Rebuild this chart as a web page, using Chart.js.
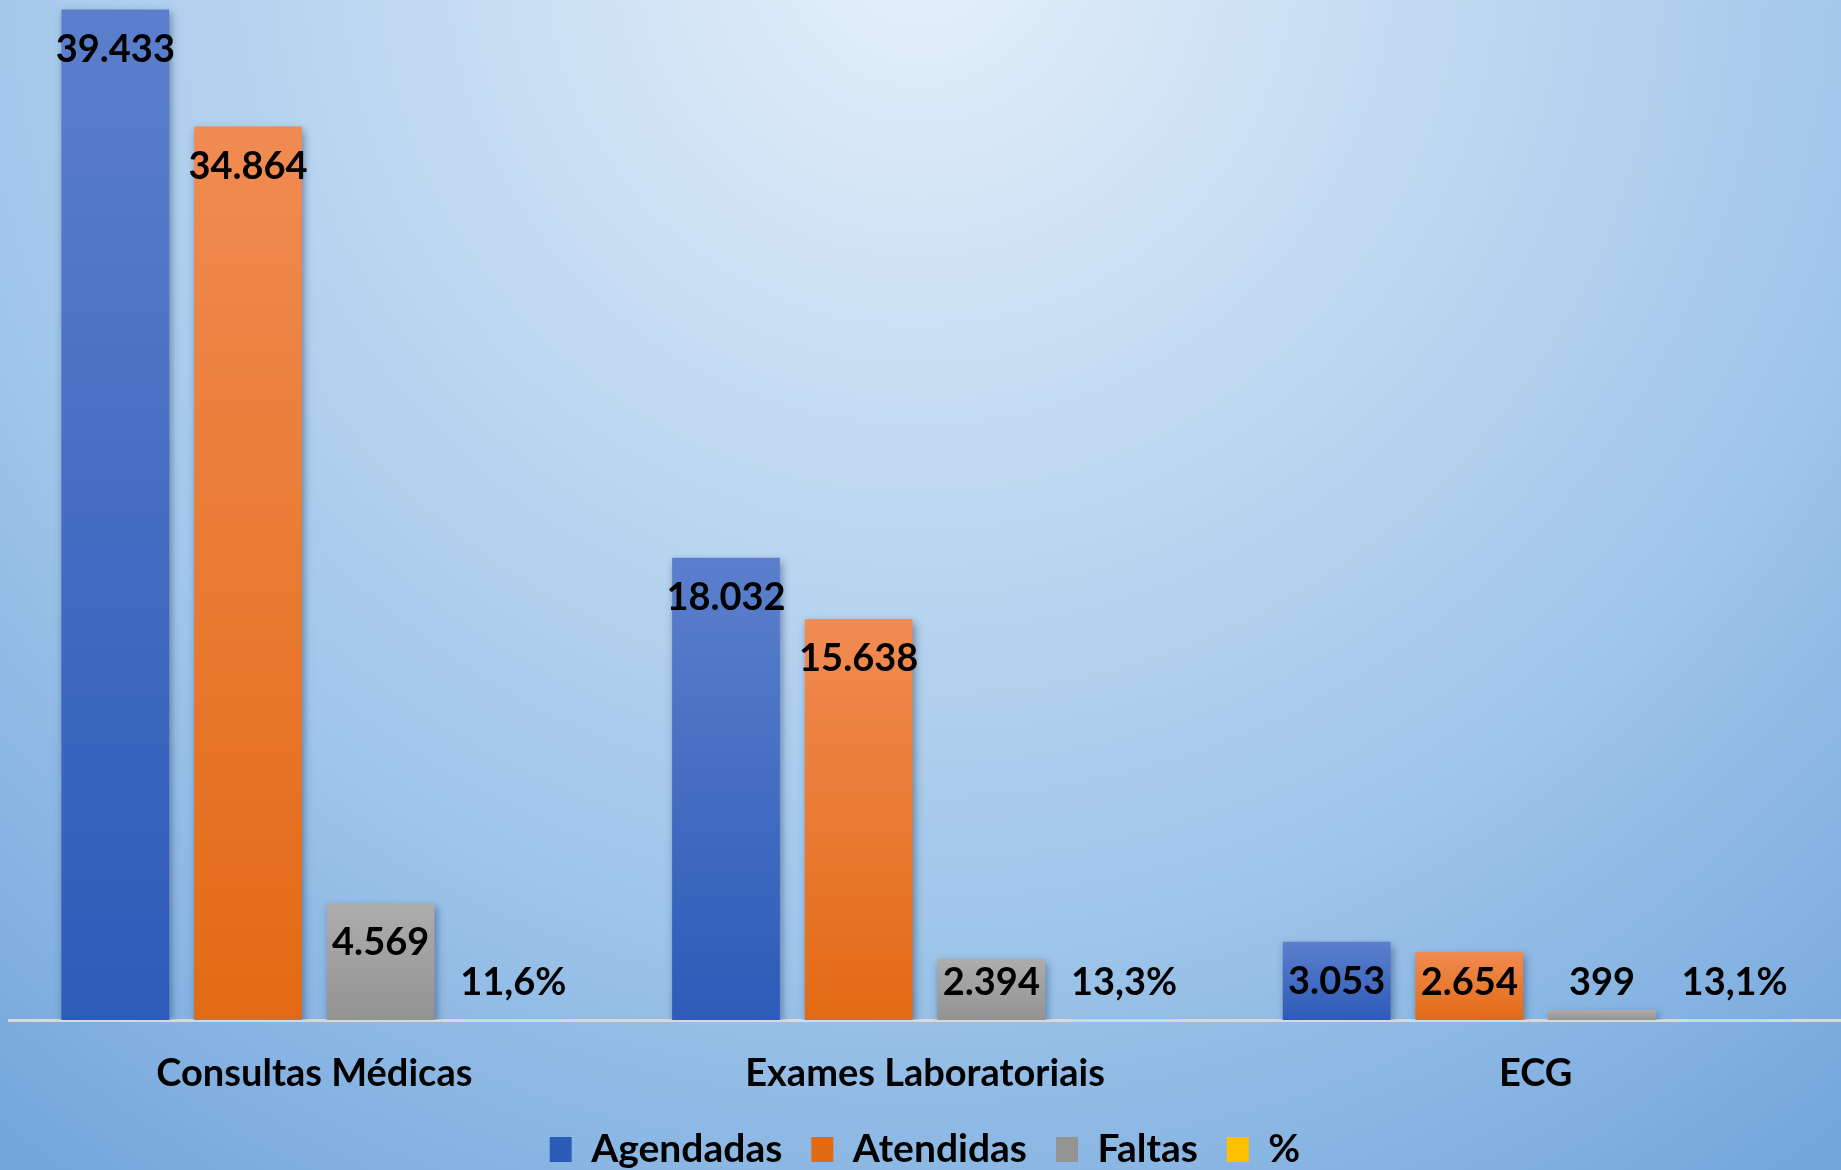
<!DOCTYPE html>
<html lang="pt-BR">
<head>
<meta charset="utf-8">
<script src="https://cdn.jsdelivr.net/npm/chart.js@4/dist/chart.umd.min.js"></script>
<style>
  html, body { margin: 0; padding: 0; overflow: hidden; }
  #wrap {
    width: 1841px;
    height: 1170px;
    overflow: hidden;
    background: radial-gradient(circle 1500px at 920px -50px, #E6F0FA 0%, #A0C6EA 65%, #74A6DC 100%);
  }
  /* a área do gráfico passa um pouco da borda para a legenda ficar rente ao fundo */
  #box { width: 1841px; height: 1179px; position: relative; }
</style>
</head>
<body>
<div id="wrap"><div id="box"><canvas id="chart"></canvas></div></div>
<script>
// Dados
const categorias = ['Consultas Médicas', 'Exames Laboratoriais', 'ECG'];
const agendadas = [39433, 18032, 3053];
const atendidas = [34864, 15638, 2654];
const faltas = [4569, 2394, 399];
const percentual = [11.6, 13.3, 13.1];

const FONTE = 'Lato, "Open Sans", sans-serif';

// Formatação brasileira: 39.433 e 11,6%
function formatarMilhar(v) {
    return String(v).replace(/\B(?=(\d{3})+(?!\d))/g, '.');
}
function formatarPercentual(v) {
    return v.toFixed(1).replace('.', ',') + '%';
}

// Gradiente vertical em cada barra (claro em cima, escuro embaixo)
function gradienteBarra(topo, base, meio) {
    return (ctx) => {
        const chart = ctx.chart;
        if (ctx.type !== 'data' || !chart.chartArea) return meio;
        const y = chart.scales.y.getPixelForValue(ctx.raw);
        const y0 = chart.scales.y.getPixelForValue(0);
        if (Math.abs(y0 - y) < 1) return meio;
        const g = chart.ctx.createLinearGradient(0, y, 0, y0);
        g.addColorStop(0, topo);
        g.addColorStop(1, base);
        return g;
    };
}

// Sombra das barras + rótulos de dados
const rotulosPlugin = {
    id: 'rotulos',
    beforeDatasetsDraw(chart) {
        const ctx = chart.ctx;
        ctx.save();
        ctx.shadowColor = 'rgba(20, 40, 80, 0.45)';
        ctx.shadowBlur = 8;
        ctx.shadowOffsetX = 2;
        ctx.shadowOffsetY = 4;
    },
    afterDatasetsDraw(chart) {
        const ctx = chart.ctx;
        ctx.restore();
        ctx.save();
        ctx.font = 'bold 38px ' + FONTE;
        ctx.fillStyle = '#000';
        ctx.textAlign = 'center';
        ctx.textBaseline = 'middle';
        chart.data.datasets.forEach((ds, i) => {
            const meta = chart.getDatasetMeta(i);
            meta.data.forEach((bar, j) => {
                const v = ds.data[j];
                const txt = ds.label === '%' ? formatarPercentual(v) : formatarMilhar(v);
                const y = Math.min(bar.y + 40, bar.base - 37);
                ctx.fillText(txt, bar.x, y);
            });
        });
        ctx.restore();
    }
};

new Chart(document.getElementById('chart'), {
    type: 'bar',
    data: {
        labels: categorias,
        datasets: [
            {
                label: 'Agendadas',
                data: agendadas,
                backgroundColor: gradienteBarra('#5B7FCC', '#2D5BB8', '#4A72C6')
            },
            {
                label: 'Atendidas',
                data: atendidas,
                backgroundColor: gradienteBarra('#F08B52', '#E36A14', '#EE7A32')
            },
            {
                label: 'Faltas',
                data: faltas,
                backgroundColor: gradienteBarra('#ADADAD', '#939393', '#A5A5A5')
            },
            {
                label: '%',
                data: percentual,
                backgroundColor: gradienteBarra('#FFD03A', '#E6AC00', '#FFC000')
            }
        ]
    },
    options: {
        responsive: true,
        maintainAspectRatio: false,
        animation: false,
        categoryPercentage: 0.869,
        barPercentage: 0.812,
        layout: {
            padding: { left: 9, right: 0, top: 0, bottom: 0 }
        },
        plugins: {
            legend: {
                position: 'bottom',
                labels: {
                    color: '#000',
                    boxWidth: 22,
                    boxHeight: 25,
                    padding: 29,
                    font: { family: FONTE, size: 39, weight: 'bold' }
                }
            },
            tooltip: { enabled: false }
        },
        scales: {
            x: {
                z: 1,
                grid: { display: false, drawTicks: false },
                border: { display: true, color: '#D9D9D9', width: 3 },
                ticks: {
                    color: '#000',
                    padding: 42,
                    font: { family: FONTE, size: 38, weight: 'bold', lineHeight: 0.6 }
                },
                afterFit(scale) {
                    scale.height = 81;
                }
            },
            y: {
                display: false,
                min: 0,
                max: 39800
            }
        }
    },
    plugins: [rotulosPlugin]
});
</script>
</body>
</html>
